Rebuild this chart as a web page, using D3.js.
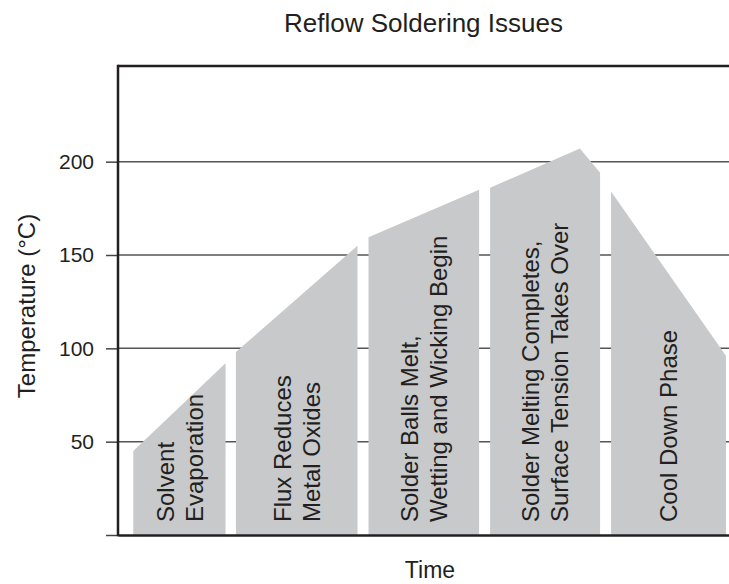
<!DOCTYPE html>
<html>
<head>
<meta charset="utf-8">
<script src="https://cdn.jsdelivr.net/npm/d3@7"></script>
<style>
  html, body { margin: 0; padding: 0; background: #fff; }
  svg { display: block; font-family: "Liberation Sans", Arial, Helvetica, sans-serif; }
</style>
</head>
<body>
<svg id="chart" width="729" height="584"></svg>
<script>
// Reflow profile phases: top edge of each band as [time, temperature °C]
const phaseNames = [
  ["Solvent", "Evaporation"],
  ["Flux Reduces", "Metal Oxides"],
  ["Solder Balls Melt,", "Wetting and Wicking Begin"],
  ["Solder Melting Completes,", "Surface Tension Takes Over"],
  ["Cool Down Phase"]
];
const solventProfile = [[2.5, 45], [17.6, 92]];
const fluxProfile    = [[19.3, 98], [39.2, 155]];
const meltProfile    = [[41.0, 159.5], [59.1, 185]];
const wetProfile     = [[60.9, 186], [75.6, 207], [78.9, 194]];
const coolProfile    = [[80.7, 184], [99.5, 96]];
const profiles = [solventProfile, fluxProfile, meltProfile, wetProfile, coolProfile];

const yTicks = [0, 50, 100, 150, 200];
const timeDomain = [0, 100];
const tempDomain = [0, 251.25];

const svg = d3.select("#chart");
const W = 729, H = 584;
const m = { left: 118, top: 66, right: 0, bottom: 49 };
const plotRight = W - m.right, plotBottom = H - m.bottom;

const x = d3.scaleLinear().domain(timeDomain).range([m.left, plotRight]);
const y = d3.scaleLinear().domain(tempDomain).range([plotBottom, m.top]);

const ink = "#231f20";

// horizontal grid lines
svg.append("g")
  .selectAll("line")
  .data(yTicks.filter(d => d > 0))
  .join("line")
  .attr("x1", m.left).attr("x2", plotRight + 5)
  .attr("y1", d => y(d)).attr("y2", d => y(d))
  .attr("stroke", "#555").attr("stroke-width", 1.5);

// phase bands
const bands = svg.append("g");
profiles.forEach((pts, i) => {
  const t0 = pts[0][0], t1 = pts[pts.length - 1][0];
  const poly = [[t0, 0], ...pts, [t1, 0]];
  bands.append("path")
    .attr("d", d3.line().x(d => x(d[0])).y(d => y(d[1]))(poly) + "Z")
    .attr("fill", "#c8c9cb");

  const cx = (x(t0) + x(t1)) / 2;
  const lines = phaseNames[i];
  const lh = 29, fs = 24;
  const first = cx - (lines.length - 1) * lh / 2 + fs * 0.36;
  lines.forEach((txt, k) => {
    bands.append("text")
      .attr("transform", `translate(${first + k * lh},${y(0) - 13}) rotate(-90)`)
      .attr("font-size", fs)
      .attr("fill", ink)
      .attr("text-anchor", "start")
      .text(txt);
  });
});

// top frame
svg.append("line")
  .attr("x1", m.left).attr("x2", plotRight + 5)
  .attr("y1", m.top).attr("y2", m.top)
  .attr("stroke", ink).attr("stroke-width", 2.5);

// y axis
const yAxis = svg.append("g")
  .attr("transform", `translate(${m.left},0)`)
  .call(d3.axisLeft(y).tickValues(yTicks).tickSize(12).tickPadding(12)
    .tickFormat(d => d === 0 ? "" : d));
yAxis.select(".domain").remove();
yAxis.selectAll(".tick line").attr("stroke", "#444").attr("stroke-width", 1.5);
yAxis.selectAll(".tick text")
  .attr("font-size", 21).attr("fill", ink)
  .attr("font-family", "'Liberation Sans', Arial, sans-serif");

svg.append("line")
  .attr("x1", m.left).attr("x2", m.left)
  .attr("y1", m.top - 1.25).attr("y2", plotBottom + 1.25)
  .attr("stroke", ink).attr("stroke-width", 2.5);

// x axis (time, no ticks)
const xAxis = svg.append("g")
  .attr("transform", `translate(0,${plotBottom})`)
  .call(d3.axisBottom(x).ticks(0).tickSizeOuter(0));
xAxis.select(".domain").attr("stroke", ink).attr("stroke-width", 2.5);

// titles
svg.append("text")
  .attr("x", (m.left + plotRight) / 2).attr("y", 32)
  .attr("text-anchor", "middle").attr("font-size", 26).attr("fill", ink)
  .text("Reflow Soldering Issues");

svg.append("text")
  .attr("x", 430).attr("y", 578)
  .attr("text-anchor", "middle").attr("font-size", 23).attr("fill", ink)
  .text("Time");

svg.append("text")
  .attr("transform", `translate(35,306) rotate(-90)`)
  .attr("text-anchor", "middle").attr("font-size", 24).attr("fill", ink)
  .text("Temperature (°C)");
</script>
</body>
</html>
